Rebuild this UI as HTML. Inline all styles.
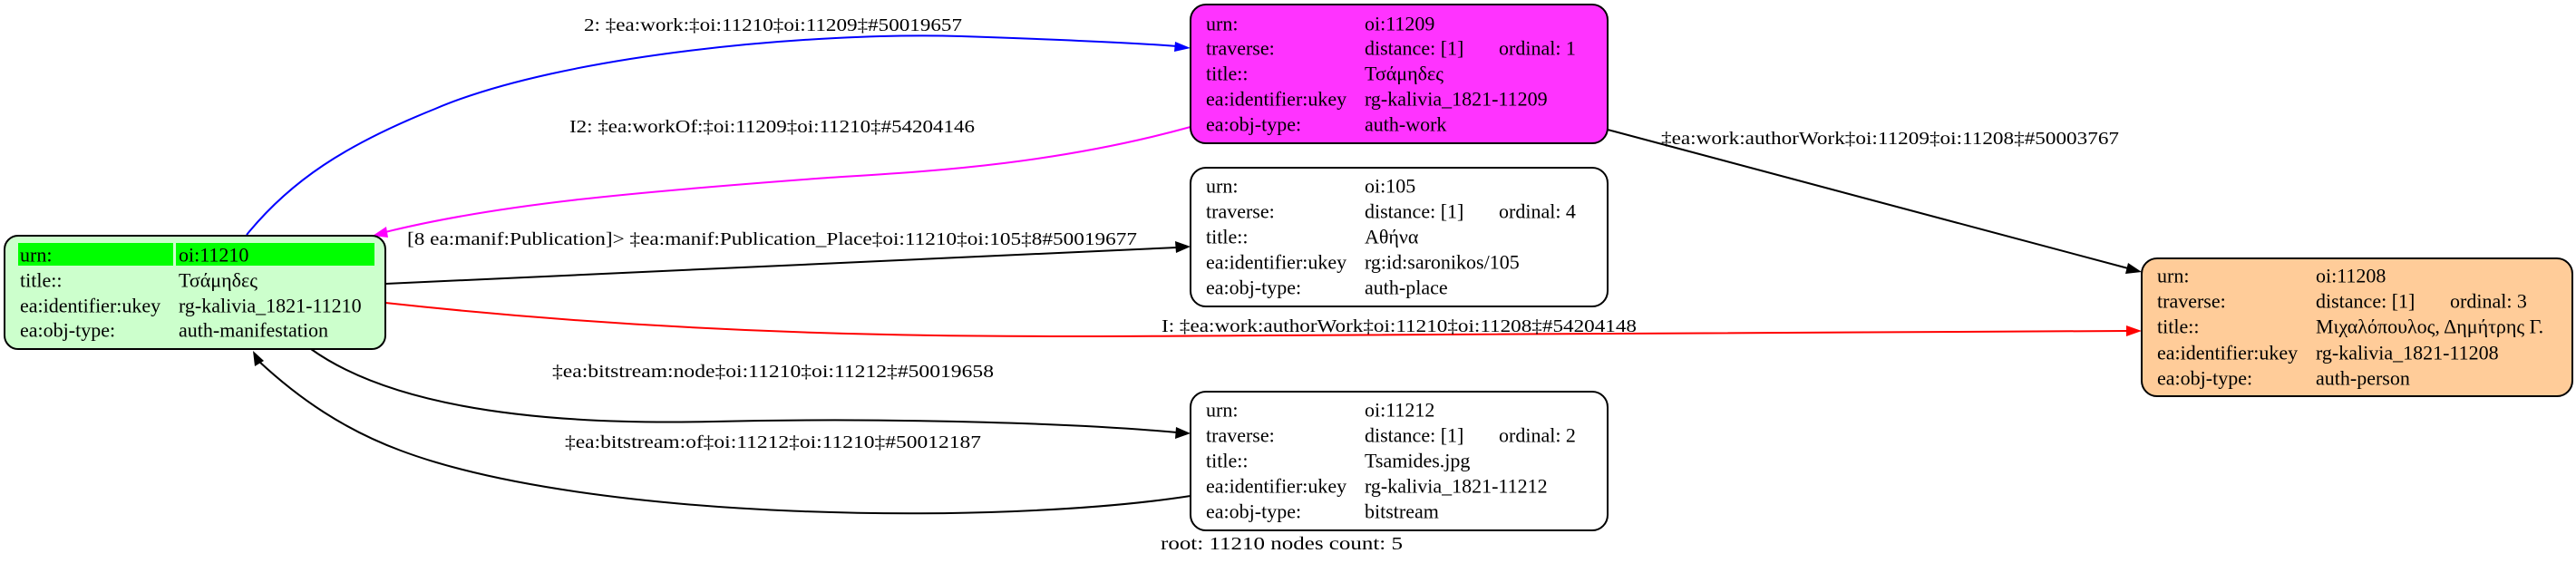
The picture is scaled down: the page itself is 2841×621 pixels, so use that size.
<!DOCTYPE html>
<html><head><meta charset="utf-8"><style>
html,body{margin:0;padding:0;background:#fff;}
svg{display:block;}
text{font-family:"Liberation Serif","DejaVu Serif",serif;font-size:20px;fill:#000;dominant-baseline:central;}
.n{font-size:22px;}
</style></head><body>
<svg width="2841" height="621" viewBox="0 0 2841 621" xmlns="http://www.w3.org/2000/svg">
<!-- edges -->
<path d="M272,259 C320,200 380,160 480,120 C620,60 900,35 1060,40 C1180,44 1260,48 1298,51" fill="none" stroke="#0000ff" stroke-width="2"/>
<polygon points="1313,53 1296,46 1295,57" fill="#0000ff"/>
<path d="M1313,140 C1150,185 1000,190 900,197 C700,212 550,225 425,256" fill="none" stroke="#ff00ff" stroke-width="2"/>
<polygon points="411,260 426,250 428,262" fill="#ff00ff"/>
<path d="M425,313 L1298,273" fill="none" stroke="#000" stroke-width="2"/>
<polygon points="1313,272 1296,266 1297,279" fill="#000"/>
<path d="M425,334 C800,375 1100,372 1400,370 C1800,367 2100,366 2346,365" fill="none" stroke="#ff0000" stroke-width="2"/>
<polygon points="2362,365 2345,359 2345,371" fill="#ff0000"/>
<path d="M1773,143 L2347,296" fill="none" stroke="#000" stroke-width="2"/>
<polygon points="2362,300 2347,290 2344,302" fill="#000"/>
<path d="M343,385 C420,440 560,470 786,465 C1000,460 1200,468 1298,477" fill="none" stroke="#000" stroke-width="2"/>
<polygon points="1313,478 1297,471 1296,484" fill="#000"/>
<path d="M1313,547 C1100,580 650,575 442,497 C380,474 330,440 285,398" fill="none" stroke="#000" stroke-width="2"/>
<polygon points="279,387 281,404 291,398" fill="#000"/>
<!-- edge labels -->
<text x="644" y="28" textLength="417" lengthAdjust="spacingAndGlyphs">2: ‡ea:work:‡oi:11210‡oi:11209‡#50019657</text>
<text x="628" y="140" textLength="447" lengthAdjust="spacingAndGlyphs">I2: ‡ea:workOf:‡oi:11209‡oi:11210‡#54204146</text>
<text x="449" y="264" textLength="805" lengthAdjust="spacingAndGlyphs">[8 ea:manif:Publication]&gt; ‡ea:manif:Publication_Place‡oi:11210‡oi:105‡8#50019677</text>
<text x="1281" y="360" textLength="524" lengthAdjust="spacingAndGlyphs">I: ‡ea:work:authorWork‡oi:11210‡oi:11208‡#54204148</text>
<text x="1832" y="153" textLength="505" lengthAdjust="spacingAndGlyphs">‡ea:work:authorWork‡oi:11209‡oi:11208‡#50003767</text>
<text x="609" y="410" textLength="487" lengthAdjust="spacingAndGlyphs">‡ea:bitstream:node‡oi:11210‡oi:11212‡#50019658</text>
<text x="623" y="488" textLength="459" lengthAdjust="spacingAndGlyphs">‡ea:bitstream:of‡oi:11212‡oi:11210‡#50012187</text>
<text x="1280" y="600" textLength="267" lengthAdjust="spacingAndGlyphs">root: 11210 nodes count: 5</text>
<g>
<!-- node 11210 -->
<rect x="5" y="260" width="420" height="125" rx="15" fill="#ccffcc" stroke="#000" stroke-width="2"/>
<rect x="20" y="268" width="171" height="25" fill="#00ff00"/>
<rect x="194" y="268" width="219" height="25" fill="#00ff00"/>
<text class="n" x="22" y="281">urn:</text><text class="n" x="197" y="281">oi:11210</text>
<text class="n" x="22" y="309">title::</text><text class="n" x="197" y="309">Τσάμηδες</text>
<text class="n" x="22" y="337">ea:identifier:ukey</text><text class="n" x="197" y="337">rg-kalivia_1821-11210</text>
<text class="n" x="22" y="364">ea:obj-type:</text><text class="n" x="197" y="364">auth-manifestation</text>
<!-- node 11209 -->
<rect x="1313" y="5" width="460" height="153" rx="17" fill="#ff33ff" stroke="#000" stroke-width="2"/>
<text class="n" x="1330" y="26">urn:</text><text class="n" x="1505" y="26">oi:11209</text>
<text class="n" x="1330" y="53">traverse:</text><text class="n" x="1505" y="53">distance: [1]</text><text class="n" x="1653" y="53">ordinal: 1</text>
<text class="n" x="1330" y="81">title::</text><text class="n" x="1505" y="81">Τσάμηδες</text>
<text class="n" x="1330" y="109">ea:identifier:ukey</text><text class="n" x="1505" y="109">rg-kalivia_1821-11209</text>
<text class="n" x="1330" y="137">ea:obj-type:</text><text class="n" x="1505" y="137">auth-work</text>
<!-- node 105 -->
<rect x="1313" y="185" width="460" height="153" rx="17" fill="#fff" stroke="#000" stroke-width="2"/>
<text class="n" x="1330" y="205">urn:</text><text class="n" x="1505" y="205">oi:105</text>
<text class="n" x="1330" y="233">traverse:</text><text class="n" x="1505" y="233">distance: [1]</text><text class="n" x="1653" y="233">ordinal: 4</text>
<text class="n" x="1330" y="261">title::</text><text class="n" x="1505" y="261">Αθήνα</text>
<text class="n" x="1330" y="289">ea:identifier:ukey</text><text class="n" x="1505" y="289">rg:id:saronikos/105</text>
<text class="n" x="1330" y="317">ea:obj-type:</text><text class="n" x="1505" y="317">auth-place</text>
<!-- node 11212 -->
<rect x="1313" y="432" width="460" height="153" rx="17" fill="#fff" stroke="#000" stroke-width="2"/>
<text class="n" x="1330" y="452">urn:</text><text class="n" x="1505" y="452">oi:11212</text>
<text class="n" x="1330" y="480">traverse:</text><text class="n" x="1505" y="480">distance: [1]</text><text class="n" x="1653" y="480">ordinal: 2</text>
<text class="n" x="1330" y="508">title::</text><text class="n" x="1505" y="508">Tsamides.jpg</text>
<text class="n" x="1330" y="536">ea:identifier:ukey</text><text class="n" x="1505" y="536">rg-kalivia_1821-11212</text>
<text class="n" x="1330" y="564">ea:obj-type:</text><text class="n" x="1505" y="564">bitstream</text>
<!-- node 11208 -->
<rect x="2362" y="285" width="475" height="152" rx="17" fill="#ffcc99" stroke="#000" stroke-width="2"/>
<text class="n" x="2379" y="304">urn:</text><text class="n" x="2554" y="304">oi:11208</text>
<text class="n" x="2379" y="332">traverse:</text><text class="n" x="2554" y="332">distance: [1]</text><text class="n" x="2702" y="332">ordinal: 3</text>
<text class="n" x="2379" y="360">title::</text><text class="n" x="2554" y="360">Μιχαλόπουλος, Δημήτρης Γ.</text>
<text class="n" x="2379" y="389">ea:identifier:ukey</text><text class="n" x="2554" y="389">rg-kalivia_1821-11208</text>
<text class="n" x="2379" y="417">ea:obj-type:</text><text class="n" x="2554" y="417">auth-person</text>
</g>
</svg>
</body></html>
